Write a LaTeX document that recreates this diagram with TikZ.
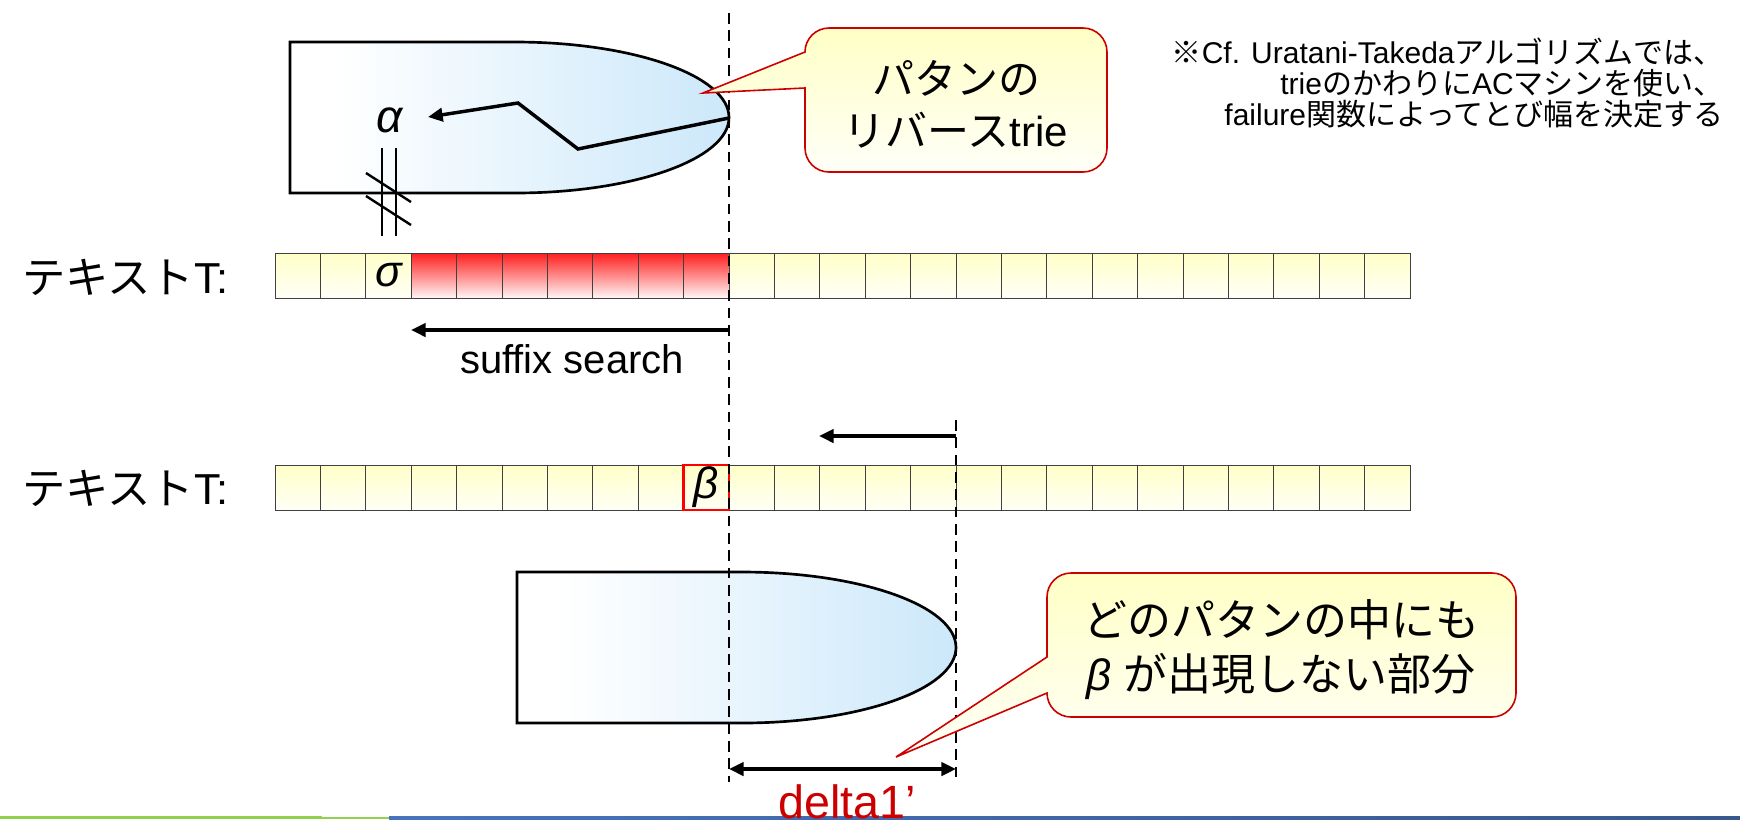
\documentclass[tikz,border=0pt]{standalone}
\usepackage{fontspec}
\setmainfont{Liberation Sans}
\newfontfamily\jp{Noto Sans CJK JP}
\usetikzlibrary{arrows.meta}

\definecolor{cellyel}{RGB}{255,255,200}
\definecolor{cellyelb}{RGB}{255,255,246}
\definecolor{hitred}{RGB}{255,30,30}
\definecolor{hitredb}{RGB}{255,246,246}
\definecolor{trieblue}{RGB}{204,232,250}
\definecolor{callyel}{RGB}{255,255,198}
\definecolor{callyelb}{RGB}{255,255,248}
\definecolor{callred}{RGB}{204,0,0}
\definecolor{barblue}{RGB}{72,116,190}
\definecolor{barblueb}{RGB}{56,88,142}
\definecolor{bargreen}{RGB}{146,208,80}

\pgfdeclarehorizontalshading{triefade}{100bp}{color(0bp)=(white); color(25bp)=(white); color(30bp)=(white); color(75bp)=(trieblue); color(100bp)=(trieblue)}

% pattern trie outline: flat left part, half-ellipse on the right
\newcommand{\trieshape}[2]{%
  \path[draw=black, line width=2pt, shade, shading=triefade]
    (#1,#2) -- ++(225,0) .. controls +(118.2,0) and +(0,-41.7) .. ++(214,75.5)
    .. controls +(0,41.7) and +(118.2,0) .. ++(-214,75.5) -- ++(-225,0) -- cycle;}

% rounded speech bubble with a wedge on its left side
% #1 left, #2 top, #3 right, #4 bottom, #5 wedge upper y, #6 wedge lower y, #7 tip
\newcommand{\wedgebox}[7]{%
  \path[bubble] (#1,#5) -- (#1,{#2+24})
    .. controls (#1,{#2+10.75}) and ({#1+10.75},#2) .. ({#1+24},#2)
    -- ({#3-24},#2)
    .. controls ({#3-10.75},#2) and (#3,{#2+10.75}) .. (#3,{#2+24})
    -- (#3,{#4-24})
    .. controls (#3,{#4-10.75}) and ({#3-10.75},#4) .. ({#3-24},#4)
    -- ({#1+24},#4)
    .. controls ({#1+10.75},#4) and (#1,{#4-10.75}) .. (#1,{#4-24})
    -- (#1,#6) -- (#7) -- cycle;}

\begin{document}
\begin{tikzpicture}[x=0.75pt,y=-0.75pt,
  cellbox/.style={draw=black!75, line width=0.75pt, top color=cellyel, bottom color=cellyelb},
  hitbox/.style={draw=black!75, line width=0.75pt, top color=hitred, bottom color=hitredb},
  guideline/.style={draw=black, line width=1.9pt, dash pattern=on 8pt off 5pt},
  movearrow/.style={draw=black, line width=2.6pt, -{Triangle[length=11pt,width=10pt]}},
  spanarrow/.style={draw=black, line width=2.6pt, {Triangle[length=11pt,width=10pt]}-{Triangle[length=11pt,width=10pt]}},
  bubble/.style={draw=callred, line width=1.2pt, top color=callyel, bottom color=callyelb},
  lbl/.style={inner sep=0pt, font=\fontsize{31.5}{39}\selectfont},
  greek/.style={inner sep=0pt, font=\fontsize{33}{33}\selectfont\itshape},
]
\useasboundingbox (0,0) rectangle (1740,819);

% footer bar
\path[fill=bargreen] (0,815.5) rectangle (322,819);
\path[fill=bargreen] (322,816.5) rectangle (389,819);
\path[left color=barblue, right color=barblueb] (389,816.5) rectangle (1740,819);

% reversed pattern trie (top) and shifted pattern trie (bottom)
\trieshape{290}{42}
\trieshape{517}{572}

% text rows
\foreach \i in {0,1,2,10,11,...,24}
  \path[cellbox] ({275+45.4*\i},253) rectangle ++(45.4,45);
\foreach \i in {3,...,9}
  \path[hitbox] ({275+45.4*\i},253) rectangle ++(45.4,45);
\foreach \i in {0,...,24}
  \path[cellbox] ({275+45.4*\i},465) rectangle ++(45.4,45);

\node[lbl, anchor=west, font=\fontsize{32.5}{39}\selectfont] (row1lbl) at (22,277) {{\jp テキスト}T:};
\node[lbl, anchor=west, font=\fontsize{32.5}{39}\selectfont] (row2lbl) at (22,488) {{\jp テキスト}T:};

\node[greek] (sigma) at (388.5,275.5) {σ};
\node[greek, font=\fontsize{34.5}{34.5}\selectfont\itshape] (alpha) at (390,120) {α};
\node[greek, draw=red, line width=2.2pt, minimum width=34pt, minimum height=33.75pt]
  (beta) at (706.3,487.5) {β};

% mismatch mark between alpha and sigma
\draw[line width=1.5pt] (382,148) -- (382,236) (396,148) -- (396,236);
\draw[line width=1.8pt] (366,173) -- (411,202) (366,196) -- (411,225);

% guide lines
\coordinate (cut) at (729,13);
\coordinate (cutend) at (729,782);
\coordinate (shift) at (956,420);
\coordinate (shiftend) at (956,782);
\draw[guideline] (cut) -- (cutend);
\draw[guideline] (shift) -- (shiftend);

% traversal inside the trie
\coordinate (trieroot) at (729,118);
\coordinate (alphatip) at (428,117);
\draw[movearrow, line join=miter] (trieroot) -- (578,149) -- (518,103) -- (alphatip);

% suffix search
\coordinate (sfxstart) at (729,330);
\coordinate (sfxend) at (411,330);
\draw[movearrow] (sfxstart) -- (sfxend);
\node[lbl, font=\fontsize{30}{36}\selectfont, anchor=base] (sfx) at (572,373) {suffix search};

% shift arrow
\coordinate (skipstart) at (956,436);
\coordinate (skipend) at (819,436);
\draw[movearrow] (skipstart) -- (skipend);

% delta1'
\coordinate (dl) at (729,769);
\coordinate (dr) at (956,769);
\draw[spanarrow] (dl) -- (dr);
\node[lbl, text=callred, font=\fontsize{35}{35}\selectfont, anchor=base] (delta) at (847,818) {delta1’};

% callouts
\coordinate (tip1) at (703,93);
\wedgebox{805}{28}{1107}{172}{52}{88}{tip1}
\node[lbl, align=center] (c1txt) at (956,104) {{\jp パタンの}\\{\jp リバース}trie};

\coordinate (tip2) at (896,757);
\wedgebox{1047}{573}{1516}{717}{657}{693}{tip2}
\node[lbl, align=center, font=\fontsize{33}{40.5}\selectfont] (c2txt) at (1281,650)
  {{\jp どのパタンの中にも}\\{\itshape β}\ {\jp が出現しない部分}};

% side note
\node[lbl, align=right, anchor=east, font=\fontsize{22.5}{23}\selectfont] (note) at (1724,83)
  {{\jp ※}Cf. Uratani-Takeda{\jp アルゴリズムでは、}\\trie{\jp のかわりに}AC{\jp マシンを使い、}\\failure{\jp 関数によってとび幅を決定する}};
\end{tikzpicture}
\end{document}
